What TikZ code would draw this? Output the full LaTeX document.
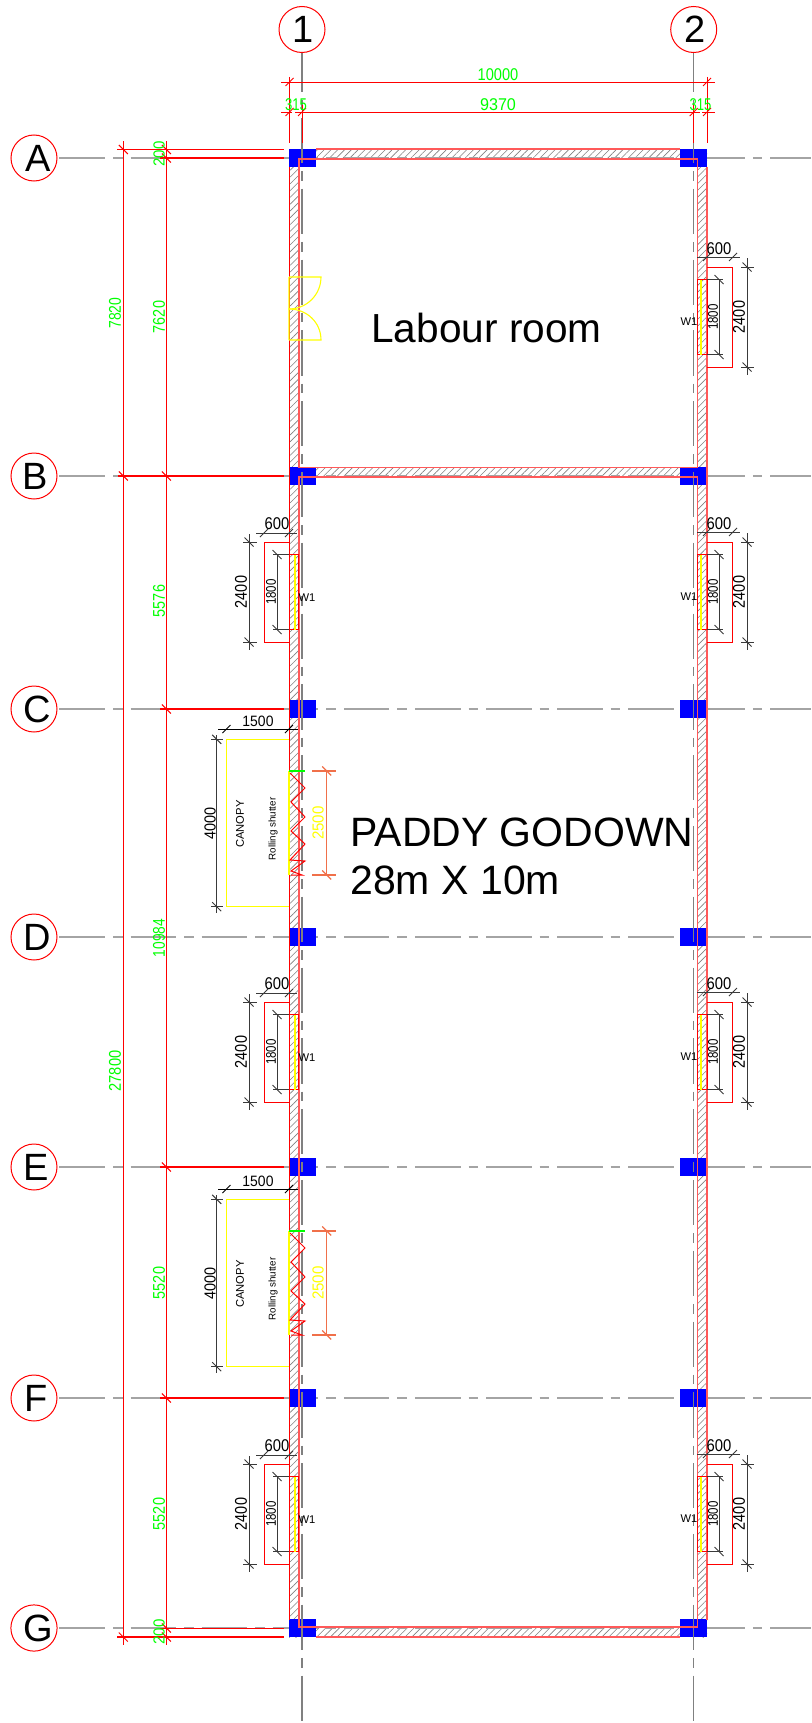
\documentclass[tikz,border=0pt]{standalone}
\usepackage{fontspec}
\setmainfont{Liberation Sans}
\usetikzlibrary{patterns.meta,backgrounds}
\definecolor{cadred}{HTML}{FF0000}
\definecolor{cadgreen}{HTML}{00FF00}
\definecolor{cadyellow}{HTML}{FFFF00}
\definecolor{cadblue}{HTML}{0000FF}
\definecolor{cadorange}{HTML}{F0704A}
\definecolor{cadgrey}{HTML}{A4A4A4}
\definecolor{cadblack}{HTML}{3A3A3A}
\newcommand{\fs}[1]{\fontsize{#1}{#1}\selectfont}
\newcommand{\nt}[2]{\scalebox{#1}[1]{#2}}
\tikzset{
  redline/.style={draw=cadred,line width=.5pt},
  redthick/.style={draw=cadred,line width=.8pt},
  pinkline/.style={draw=cadred!65,line width=.6pt},
  yell/.style={draw=cadyellow,line width=.55pt},
  dimline/.style={draw=cadblack,line width=.5pt},
  orangeline/.style={draw=cadorange,line width=.6pt},
  hatchwall/.style={pattern={Lines[angle=45,distance=2.4pt,line width=.3pt]},pattern color=gray},
  column/.style={fill=cadblue},
  haxis/.style={draw=cadgrey,line width=.6pt,dash pattern=on 22.8pt off 4pt on 4.75pt off 4pt,dash phase=22.85pt},
  vaxis/.style={draw=gray,line width=.55pt,dash pattern=on 22.6pt off 4pt on 4.8pt off 4pt,dash phase=26.6pt},
  bubble/.style={circle,draw=cadred,line width=.5pt,fill=white,minimum size=23pt,inner sep=0,font=\fs{19},text=black},
  greentxt/.style={text=cadgreen,inner sep=0,font=\fs{8.5}},
  blacktxt/.style={text=black,inner sep=0,font=\fs{8.5}},
  smalltxt/.style={text=black,inner sep=0,font=\fs{5.6}},
  bigtxt/.style={text=black,inner sep=0,font=\fs{20.5},anchor=west},
}
% ticks: on vertical dimension lines (\) and on horizontal dimension lines (/)
\newcommand{\vtick}[3]{\draw[#1,shift={(#2,#3)}] (-4.5,-4.5) -- (4.5,4.5);}
\newcommand{\htick}[3]{\draw[#1,shift={(#2,#3)}] (-4,4) -- (4,-4);}
\begin{document}
\begin{tikzpicture}[x=.5pt,y=-.5pt]
\useasboundingbox (0,0) rectangle (811,1723);

% grid bubbles
\node[bubble] (axA) at (34,158) {\hspace*{4pt}A};
\node[bubble] (axB) at (34,476) {\hspace*{1pt}B};
\node[bubble] (axC) at (34,709) {\hspace*{3pt}C};
\node[bubble] (axD) at (34,937) {\hspace*{3pt}D};
\node[bubble] (axE) at (34,1167) {\hspace*{2pt}E};
\node[bubble] (axF) at (34,1398) {\hspace*{2pt}F};
\node[bubble] (axG) at (34,1628) {\hspace*{4pt}G};
\node[bubble] (ax1) at (302,29.5) {\hspace*{1pt}1};
\node[bubble] (ax2) at (693.7,29.5) {\hspace*{1pt}2};
\foreach \n/\y in {A/158,B/476,C/709,D/937,E/1167,F/1398,G/1628}{\coordinate (end\n) at (811,\y);}
\coordinate (end1) at (302,1723);
\coordinate (end2) at (693.7,1723);

\begin{pgfonlayer}{background}
  % walls
  \fill[hatchwall] (289,149) rectangle (299,1637);
  \fill[hatchwall] (697.5,149) rectangle (707,1637);
  \fill[hatchwall] (316,149) rectangle (680,159);
  \fill[hatchwall] (316,467.5) rectangle (680,477);
  \fill[hatchwall] (316,1627) rectangle (680,1637);
  % horizontal axes
  \foreach \n in {A,B,C,D,E,F,G}{\draw[haxis] (ax\n.center) -- (end\n);}
  % columns
  \foreach \y in {158,476,709,937,1167,1398,1628}{
    \fill[column] (289,\y-9) rectangle (316,\y+9);
    \fill[column] (680,\y-9) rectangle (707,\y+9);
  }
  % vertical axes
  \foreach \n in {1,2}{\draw[vaxis] (ax\n.center) -- (end\n);}
\end{pgfonlayer}

% wall outlines
\draw[redline] (289.3,167) -- (289.3,1620);
\draw[pinkline] (707,167) -- (707,1620);
\draw[pinkline] (299,167) -- (299,467.5) -- (697.5,467.5) -- (697.5,159) -- (299,159) -- cycle;
\draw[pinkline] (299,477) -- (299,1627) -- (697.5,1627) -- (697.5,477) -- cycle;
\draw[pinkline] (316,149) -- (680,149);
\draw[pinkline] (316,1637) -- (680,1637);

% top dimensions
\draw[redline] (281,82.3) -- (715,82.3);
\draw[redline] (281,112.3) -- (292,112.3) (295,112.3) -- (700,112.3) (702,112.3) -- (715,112.3);
\draw[redline] (289.5,77) -- (289.5,143);
\draw[redline] (302,105) -- (302,143);
\draw[redline] (693.7,105) -- (693.7,143);
\draw[redline] (707,77) -- (707,143);
\foreach \p in {289.5,707}{\htick{redline}{\p}{82}}
\foreach \p in {289.5,302,693.7,707}{\htick{redline}{\p}{112}}
\node[greentxt] (t10000) at (498,74.5) {\nt{.86}{10000}};
\node[greentxt] (t9370) at (498,104.5) {\nt{.95}{9370}};
\node[greentxt] (t315a) at (296,104.5) {\nt{.77}{315}};
\node[greentxt] (t315b) at (700.5,104.5) {\nt{.77}{315}};

% left dimensions
\draw[redline] (123.3,141) -- (123.3,1645);
\draw[redline] (166.4,141) -- (166.4,1645);
\draw[redline] (117,149.5) -- (284,149.5);
\draw[redthick] (160,158) -- (284,158);
\draw[redthick] (118,476) -- (284,476);
\draw[redthick] (160,709) -- (284,709);
\draw[redthick] (160,1167) -- (284,1167);
\draw[redthick] (160,1398) -- (284,1398);
\draw[redline] (160,1628) -- (284,1628);
\draw[redthick] (117,1637) -- (284,1637);
\foreach \p/\q in {123.3/149.5,166.4/149.5,166.4/158,123.3/476,166.4/476,166.4/709,166.4/1167,166.4/1398,166.4/1628,166.4/1637,123.3/1637}{\vtick{redline}{\p}{\q}}
\node[greentxt,rotate=90] (t7820) at (115,313) {\nt{.82}{7820}};
\node[greentxt,rotate=90] (t27800) at (115,1071) {\nt{.86}{27800}};
\node[greentxt,rotate=90,font=\fs{8}] (t200a) at (159,154) {\nt{.94}{200}};
\node[greentxt,rotate=90] (t7620) at (159,317) {\nt{.85}{7620}};
\node[greentxt,rotate=90] (t5576) at (159,601) {\nt{.85}{5576}};
\node[greentxt,rotate=90] (t10984) at (159,938) {\nt{.81}{10984}};
\node[greentxt,rotate=90] (t5520a) at (159,1283) {\nt{.85}{5520}};
\node[greentxt,rotate=90] (t5520b) at (159,1514) {\nt{.85}{5520}};
\node[greentxt,rotate=90,font=\fs{8}] (t200b) at (159,1632) {\nt{.94}{200}};

% door
\draw[yell] (289,277) -- (321,277) .. controls (321,294.7) and (306.7,309) .. (289,309) -- (289,277);
\draw[yell] (289,340) -- (321,340) .. controls (321,322.3) and (306.7,309) .. (289,309) -- (289,340);

% windows on the left wall
\foreach \c in {592,1052,1514}{
  \draw[redline] (289,\c-50) -- (264,\c-50) -- (264,\c+50) -- (289,\c+50);
  \draw[redline] (289,\c-37.5) rectangle (298,\c+37.5);
  \draw[yell] (295,\c-37.5) -- (295,\c+37.5);
  \draw[dimline] (289,\c-37.5) -- (273,\c-37.5) (289,\c+37.5) -- (273,\c+37.5) (277,\c-37.5) -- (277,\c+37.5);
  \vtick{dimline}{277}{\c-37.5}\vtick{dimline}{277}{\c+37.5}
  \draw[dimline] (243,\c-50) -- (257,\c-50) (243,\c+50) -- (257,\c+50) (249,\c-58) -- (249,\c+58);
  \vtick{dimline}{249}{\c-50}\vtick{dimline}{249}{\c+50}
  \draw[dimline] (256,\c-59) -- (297,\c-59);
  \htick{dimline}{264}{\c-59}\htick{dimline}{289}{\c-59}
  \node[blacktxt,rotate=90] (lw2400\c) at (241,\c) {\nt{.85}{2400}};
  \node[blacktxt,rotate=90,font=\fs{7}] (lw1800\c) at (271,\c) {\nt{.82}{1800}};
  \node[blacktxt] (lw600\c) at (277,\c-68) {\nt{.87}{600}};
  \node[smalltxt] (lwW\c) at (307,\c+6) {W1};
}
% windows on the right wall
\foreach \c in {317,592,1052,1514}{
  \draw[redline] (707,\c-50) -- (732,\c-50) -- (732,\c+50) -- (707,\c+50);
  \draw[redline] (697.5,\c-37.5) rectangle (707,\c+37.5);
  \draw[yell] (701,\c-37.5) -- (701,\c+37.5);
  \draw[dimline] (707,\c-37.5) -- (723,\c-37.5) (707,\c+37.5) -- (723,\c+37.5) (719,\c-37.5) -- (719,\c+37.5);
  \vtick{dimline}{719}{\c-37.5}\vtick{dimline}{719}{\c+37.5}
  \draw[dimline] (741,\c-50) -- (754,\c-50) (741,\c+50) -- (754,\c+50) (747,\c-59) -- (747,\c+58);
  \vtick{dimline}{747}{\c-50}\vtick{dimline}{747}{\c+50}
  \draw[dimline] (697,\c-60) -- (740,\c-60);
  \htick{dimline}{707}{\c-60}\htick{dimline}{733}{\c-60}
  \node[blacktxt,rotate=90] (rw2400\c) at (739,\c) {\nt{.85}{2400}};
  \node[blacktxt,rotate=90,font=\fs{7}] (rw1800\c) at (713,\c) {\nt{.82}{1800}};
  \node[blacktxt] (rw600\c) at (719,\c-68) {\nt{.87}{600}};
  \node[smalltxt] (rwW\c) at (689,\c+5) {W1};
}

% canopies and rolling shutters
\foreach \o in {0,460}{
\begin{scope}[yshift=-\o*.5pt]
  \draw[yell] (289,739.3) -- (226.7,739.3) -- (226.7,906.7) -- (289,906.7);
  \draw[yell] (289,771) -- (289,875);
  \draw[draw=cadgreen,line width=.6pt] (289,771) -- (305,771);
  \draw[draw=cadred,line width=.5pt] (290,773) -- (305,788) -- (291,802) -- (305,817) -- (291,831) -- (305,844) -- (290,860) -- (305,861) -- (291,871) -- (302,875) -- (291,875);
  \draw[dimline,draw=black] (218,729) -- (298,729);
  \htick{dimline,draw=black}{226.5}{729}\htick{dimline,draw=black}{289}{729}
  \draw[dimline] (216.7,735) -- (216.7,913);
  \draw[dimline] (211,739.3) -- (223,739.3) (211,906.7) -- (223,906.7);
  \vtick{dimline}{216.7}{739.3}\vtick{dimline}{216.7}{906.7}
  \draw[orangeline] (312,771) -- (336,771) (312,875) -- (336,875) (326.7,771) -- (326.7,875);
  \vtick{orangeline}{326.7}{771}\vtick{orangeline}{326.7}{875}
  \node[blacktxt,font=\fs{7.5}] (c1500\o) at (258,721) {\nt{.93}{1500}};
  \node[blacktxt,rotate=90,font=\fs{8}] (c4000\o) at (210,823) {\nt{.9}{4000}};
  \node[smalltxt,rotate=90] (cC\o) at (240,824) {CANOPY};
  \node[blacktxt,rotate=90,font=\fs{4.9}] (cR\o) at (273,829) {Rolling shutter};
  \node[greentxt,rotate=90,text=cadyellow,font=\fs{8}] (c2500\o) at (318,823) {\nt{.94}{2500}};
\end{scope}}

% room titles
\node[bigtxt,font=\fs{20.3}] (labour) at (371,328) {Labour room};
\node[bigtxt] (godown) at (350,832) {PADDY GODOWN};
\node[bigtxt] (size) at (350,880) {28m X 10m};
\end{tikzpicture}
\end{document}
